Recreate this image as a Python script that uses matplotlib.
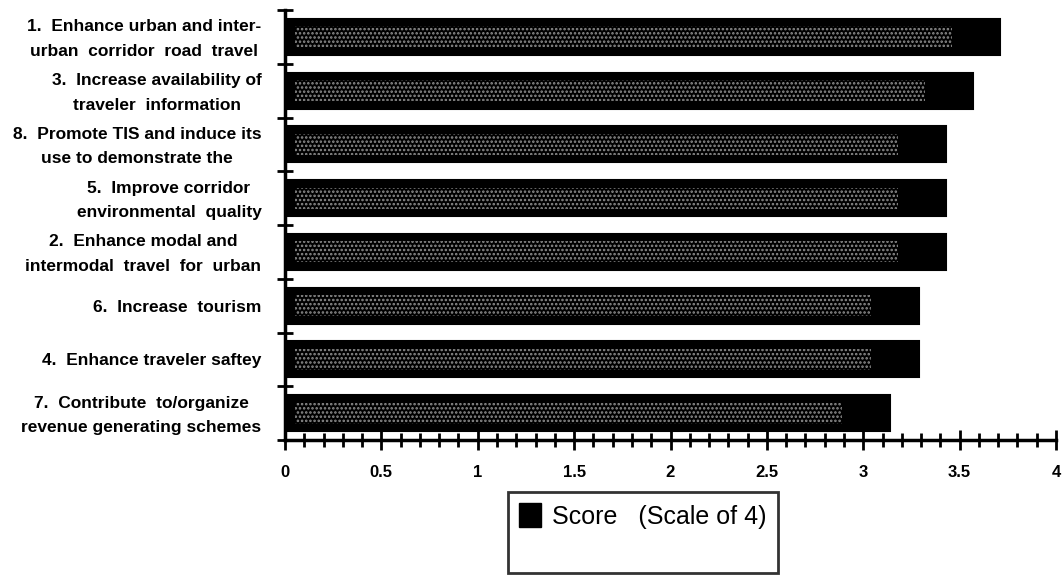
import numpy as np
import matplotlib
matplotlib.use("Agg")
import matplotlib.pyplot as plt
import matplotlib.transforms as mtransforms
from matplotlib.patches import Patch

plt.rcParams['font.family'] = ['Liberation Sans', 'DejaVu Sans']
plt.rcParams['hatch.linewidth'] = 1.2

# Objectives, top to bottom, with their scores (scale of 4)
objectives = [
    "1.  Enhance urban and inter-\nurban  corridor  road  travel",
    "3.  Increase availability of\ntraveler  information",
    "8.  Promote TIS and induce its\nuse to demonstrate the",
    "5.  Improve corridor\nenvironmental  quality",
    "2.  Enhance modal and\nintermodal  travel  for  urban",
    "6.  Increase  tourism",
    "4.  Enhance traveler saftey",
    "7.  Contribute  to/organize\nrevenue generating schemes",
]
scores = [3.71, 3.57, 3.43, 3.43, 3.43, 3.29, 3.29, 3.14]
series_label = "Score   (Scale of 4)"

xticks = np.arange(0, 4.01, 0.5)
xtick_labels = ["0", "0.5", "1", "1.5", "2", "2.5", "3", "3.5", "4"]

fig = plt.figure(figsize=(10.62, 5.78), dpi=100)
ax = fig.add_axes([285 / 1062, 1 - 440 / 578, 771 / 1062, 430 / 578])

ypos = np.arange(len(scores))
bar_h = 0.67

# solid black bars with a stippled inner panel
ax.barh(ypos, scores, height=bar_h, color="black", edgecolor="black",
        linewidth=1.5, zorder=2)
ax.barh(ypos, np.array(scores) - 0.3, left=0.05, height=bar_h * 0.58,
        facecolor="none", edgecolor="#8f8f8f", hatch="....",
        linewidth=0, zorder=3)

ax.set_xlim(0, 4)
ax.set_ylim(len(scores) - 0.5, -0.5)

ax.set_xticks(xticks)
ax.set_xticklabels(xtick_labels, fontweight="bold", fontsize=12)
ax.set_xticks(np.arange(0, 4.01, 0.1), minor=True)
ax.tick_params(axis="x", which="major", direction="inout", length=14,
               width=2, pad=11)
ax.tick_params(axis="x", which="minor", direction="inout", length=10,
               width=2)

ax.set_yticks(ypos)
ax.set_yticklabels(objectives, fontweight="bold", fontsize=12.5,
                   linespacing=1.8, multialignment="center")
ax.tick_params(axis="y", which="major", length=0, pad=17)
ax.set_yticks(np.arange(-0.5, len(scores)), minor=True)
ax.tick_params(axis="y", which="minor", direction="inout", length=12,
               width=2)

# two-line labels sit a little low when centred; nudge them up
nudge = mtransforms.ScaledTranslation(0, 4 / 100, fig.dpi_scale_trans)
for lbl in ax.get_yticklabels():
    if "\n" in lbl.get_text():
        lbl.set_transform(lbl.get_transform() + nudge)

for side in ("top", "right"):
    ax.spines[side].set_visible(False)
for side in ("left", "bottom"):
    ax.spines[side].set_linewidth(2.5)

handles = [Patch(facecolor="black", edgecolor="black"),
           Patch(facecolor="none", edgecolor="none")]
leg = fig.legend(handles, [series_label, " "], loc="upper left",
                 bbox_to_anchor=(508 / 1062, 1 - 492 / 578),
                 fontsize=18, frameon=True, fancybox=False,
                 handlelength=0.85, handleheight=1.1, handletextpad=0.45,
                 borderpad=0.45, labelspacing=0.3, borderaxespad=0)
leg.get_frame().set_edgecolor("black")
leg.get_frame().set_linewidth(2)

fig.savefig("out.png", dpi=100)
